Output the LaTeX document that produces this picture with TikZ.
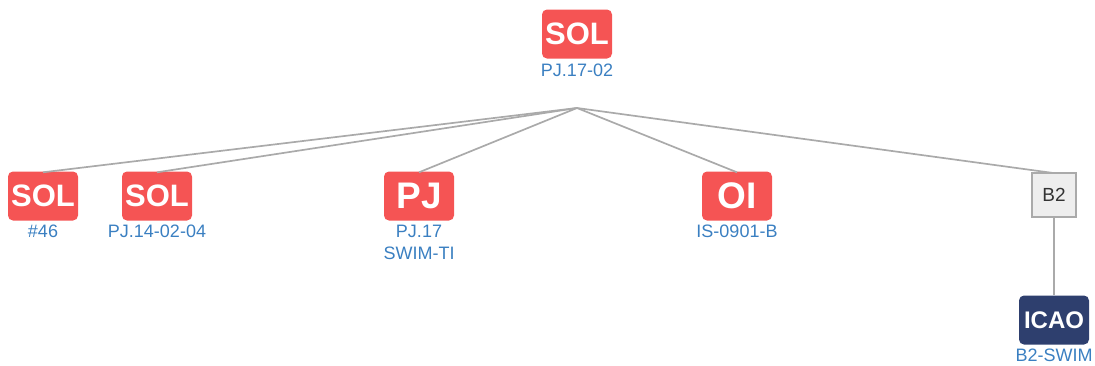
\documentclass[tikz,border=0pt]{standalone}
\usepackage{fontspec}
\setmainfont{Liberation Sans}
\definecolor{solred}{HTML}{F55454}
\definecolor{navy}{HTML}{2E3F6E}
\definecolor{lblue}{HTML}{3A7FC1}
\definecolor{edgegray}{HTML}{AAAAAA}
\definecolor{boxgray}{HTML}{EEEEEE}
\definecolor{txtgray}{HTML}{333333}
\begin{document}
\begin{tikzpicture}[x=1pt,y=-1pt,
  tag/.style={fill=solred,rounded corners=5pt,minimum width=70pt,minimum height=49pt,inner sep=0pt,text=white,font=\bfseries\fontsize{31}{31}\selectfont},
  bigtag/.style={tag,font=\bfseries\fontsize{37}{37}\selectfont},
  navytag/.style={tag,fill=navy,font=\bfseries\fontsize{24}{24}\selectfont},
  graybox/.style={draw=edgegray,line width=1.8pt,fill=boxgray,minimum width=44pt,minimum height=44pt,inner sep=0pt,text=txtgray,font=\fontsize{19}{19}\selectfont},
  lbl/.style={text=lblue,font=\fontsize{18}{22}\selectfont,align=center,anchor=north,inner sep=0pt},
  edge/.style={draw=edgegray,line width=1.7pt}]
\useasboundingbox (0,0) rectangle (1095,365);
\node[tag] (root) at (577,34) {SOL};
\node[lbl] (rootl) at (577,64) {PJ.17-02};
\coordinate (hub) at (577,108);
\node[tag] (c1) at (43,196) {SOL};
\node[lbl] (c1l) at (43,225) {\#46};
\node[tag] (c2) at (157,196) {SOL};
\node[lbl] (c2l) at (157,225) {PJ.14-02-04};
\node[bigtag] (c3) at (419,196) {PJ};
\node[lbl] (c3l) at (419,225) {PJ.17\\SWIM-TI};
\node[bigtag] (c4) at (737,196) {OI};
\node[lbl] (c4l) at (737,225) {IS-0901-B};
\node[graybox] (c5) at (1054,195) {B2};
\node[navytag] (c6) at (1054,320) {ICAO};
\node[lbl] (c6l) at (1054,349) {B2-SWIM};
\foreach \c in {c1,c2,c3,c4,c5}{\draw[edge] (hub) -- ([yshift=-1pt]\c.north);}
\draw[edge] (c5.south) -- (c6.north);
\end{tikzpicture}
\end{document}
